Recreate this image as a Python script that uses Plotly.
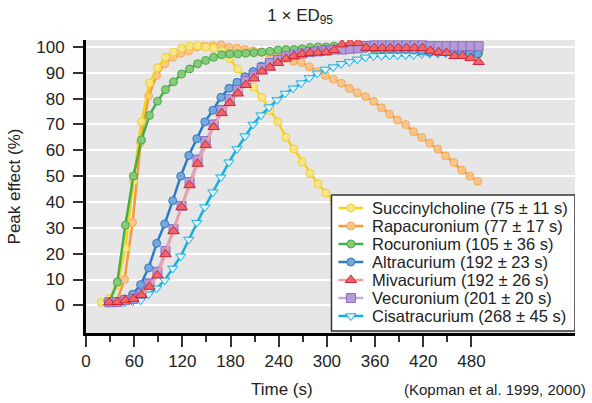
import plotly.graph_objects as go

FONT = "Liberation Sans, Arial, Helvetica, sans-serif"

# ---- data (time in s, peak effect in %) ----
t_succ = [19, 29, 39, 49, 59, 69, 79, 89, 99, 109, 119, 129, 139, 149, 159, 169,
          179, 189, 199, 209, 219, 229, 239, 249, 259, 269, 279, 289, 299, 309,
          319, 329, 339]
succinylcholine = [1.2, 2.5, 8, 22, 48, 71, 86, 92, 96, 98, 99.5, 100.3, 100.5, 100,
                   99.5, 98.5, 95.5, 91.5, 88, 84.5, 80.5, 75.5, 71, 65, 60.5, 55.5,
                   51, 47, 43.5, 40.5, 37.5, 35, 32]

t_a = [28, 38, 48, 58, 68, 78, 88, 98, 108, 118, 128, 138, 148, 158, 168, 178, 188,
       198, 208, 218, 228, 238, 248, 258, 268, 278, 288, 298, 308, 318, 328, 338,
       348, 358, 368, 378, 388, 398, 408, 418, 428, 438, 448, 458, 468, 478, 488]
t_b = [29, 39, 49, 59, 69, 79, 89, 99, 109, 119, 129, 139, 149, 159, 169, 179, 189,
       199, 209, 219, 229, 239, 249, 259, 269, 279, 289, 299, 309, 319, 329, 339,
       349, 359, 369, 379, 389, 399, 409, 419, 429, 439, 449, 459, 469, 479, 489]

rapacuronium = [1, 1.2, 10, 32, 63, 81, 89, 93.5, 96, 97.5,
                98.5, 100, 100.3, 100.5, 100.8, 99.8, 99.5, 99, 98.5, 98,
                97.5, 96.5, 95.5, 94.5, 94, 92.3, 90.5, 89, 87.5, 86,
                84, 82.3, 80.8, 79, 76.5, 74, 71.7, 70, 67.2, 65,
                62.8, 60.5, 57.8, 55.3, 52.3, 50, 48]
rocuronium = [1.2, 9, 31, 50, 64, 73.5, 79, 83.5, 86.5, 89.5,
              91.5, 93.5, 94.8, 96, 97, 97.3, 97.3, 97.6, 97.8, 98,
              98.3, 98.8, 99, 99, 99.3, 99.8, 100, 100, 100.3, 100,
              99.8, 99.8, 100, 99, 99, 99, 99, 99, 98.8, 98.8,
              98.5, 98.5, 98.5, 98.5, 98.3, 98, 97.7]
altracurium = [1.2, 1.5, 2.5, 4.3, 8, 14.5, 24, 31.5, 40.5, 50,
               58, 64.5, 71, 75.5, 80.5, 84, 86.3, 88.5, 90.5, 92.5,
               94, 95, 96, 97, 97.5, 98, 98.5, 99, 99, 99.3,
               99.5, 99.5, 99.5, 99.5, 99.3, 99.3, 99, 99, 98.8, 98.5,
               98, 98, 98, 98, 97.8, 97.5, 97.3]
mivacurium = [1.2, 1.3, 2, 2.5, 4, 7.2, 11.6, 19.8, 28.7, 38,
              46.5, 54.8, 62, 69, 74.4, 78.3, 82, 85.3, 87.8, 90.5,
              92, 93.8, 95.5, 96.5, 97.3, 97.7, 97.8, 98, 98.8, 101,
              101.5, 101.5, 99.7, 99.6, 99.6, 99.6, 99.6, 99.6, 99.6, 99.6,
              98.5, 98, 97.7, 96.5, 96.5, 95.7, 94.2]
vecuronium = [1.2, 1.3, 2, 2.5, 4.5, 8.5, 13, 21, 29.5, 38.5,
              47.7, 56.4, 63.6, 70, 75.6, 79.8, 83.3, 86.8, 89, 91.9,
              93.8, 95, 96.5, 97, 97.5, 98, 98.3, 98.6, 99, 99,
              99.3, 99.5, 100.4, 100.6, 100.6, 100.6, 100.6, 100.6, 100.6, 100.6,
              100.3, 100.3, 100.3, 100.3, 100.3, 100.3, 100.3]
cisatracurium = [1, 1, 1.2, 1.5, 2, 4.3, 6.6, 9.7, 14.3, 19,
                 25.5, 32, 38, 43.8, 49.6, 55.4, 60.5, 65.5, 70, 73.6,
                 76.7, 79.5, 82, 84, 86, 88, 89.8, 91.3, 92.2, 93.5,
                 94.2, 95.2, 96, 96.5, 96.6, 96.7, 96.8, 96.9, 96.9, 97.3,
                 97.4, 97.5, 97.6, 97.6, 97.7, 97.7, 97.8]

names = ["Succinylcholine (75 \u00b1 11 s)", "Rapacuronium (77 \u00b1 17 s)",
         "Rocuronium (105 \u00b1 36 s)", "Altracurium (192 \u00b1 23 s)",
         "Mivacurium (192 \u00b1 26 s)", "Vecuronium (201 \u00b1 20 s)",
         "Cisatracurium (268 \u00b1 45 s)"]
x_ticks = [0, 60, 120, 180, 240, 300, 360, 420, 480]
x_minor = [30, 90, 150, 210, 270, 330, 390, 450]
y_ticks = [0, 10, 20, 30, 40, 50, 60, 70, 80, 90, 100]

series = [
    (t_succ, succinylcholine, "#f2d31b", "#f8e58a", "#f0cf2a", "circle", 8),
    (t_a, rapacuronium, "#f89a35", "#fbc488", "#f6aa58", "circle", 8),
    (t_b, rocuronium, "#46ae47", "#86cc78", "#4aa94a", "circle", 8),
    (t_a, altracurium, "#2a7ccb", "#72a8de", "#3478c2", "circle", 8),
    (t_b, mivacurium, "#f0a0a2", "#ee6668", "#cf2436", "triangle-up", 10),
    (t_b, vecuronium, "#c0aadf", "#b49bd8", "#8b6cbf", "square", 9),
    (t_a, cisatracurium, "#1aaee0", "#dff3fb", "#1aaee0", "triangle-down", 9),
]

fig = go.Figure()
draw_order = [1, 0, 2, 6, 3, 5, 4]
for i in draw_order:
    tx, vy, lc, fc, ec, sym, sz = series[i]
    fig.add_trace(go.Scatter(
        x=tx, y=vy, mode="lines+markers", name=names[i], showlegend=False,
        line=dict(color=lc, width=2.5),
        marker=dict(symbol=sym, size=sz, color=fc, line=dict(color=ec, width=1)),
    ))

# ---- legend key, drawn on an overlay axis measured in pixels ----
PX_L, PX_R, PX_T, PX_B = 83, 575, 40, 333
box_l, box_r, box_t, box_b = 330, 575, 195, 331
row0, row_gap = 208, 18
fig.add_trace(go.Scatter(
    x=[box_l, box_r, box_r, box_l, box_l], y=[box_t, box_t, box_b, box_b, box_t],
    mode="lines", fill="toself", fillcolor="white",
    line=dict(color="#333", width=1.5), xaxis="x2", yaxis="y2",
    showlegend=False, hoverinfo="skip"))
annotations = []
for k, (tx, vy, lc, fc, ec, sym, sz) in enumerate(series):
    yc = row0 + k * row_gap
    fig.add_trace(go.Scatter(
        x=[337, 349.5, 362], y=[yc, yc, yc], mode="lines+markers",
        line=dict(color=lc, width=2.5),
        marker=dict(symbol=sym, size=sz, color=fc, opacity=[0, 1, 0],
                    line=dict(color=ec, width=1)),
        xaxis="x2", yaxis="y2", showlegend=False, hoverinfo="skip"))
    annotations.append(dict(text=names[k], xref="x2", yref="y2", x=369, y=yc,
                            xanchor="left", yanchor="middle", showarrow=False,
                            font=dict(size=16.5, color="#222")))

annotations += [
    dict(text="Time (s)", xref="paper", yref="paper", x=0.4004, y=-0.1945,
         xanchor="center", yanchor="middle", showarrow=False,
         font=dict(size=17, color="#222")),
    dict(text="(Kopman et al. 1999, 2000)", xref="paper", yref="paper",
         x=1.0264, y=-0.1945, xanchor="right", yanchor="middle",
         showarrow=False, font=dict(size=15, color="#222")),
]

fig.update_layout(
    width=592, height=403,
    margin=dict(l=PX_L, r=592 - PX_R, t=PX_T, b=403 - PX_B),
    plot_bgcolor="#e6e6e6", paper_bgcolor="white",
    font=dict(family=FONT, size=17, color="#222"),
    title=dict(text="1 \u00d7 ED<sub>95</sub>", x=0.507, xanchor="center",
               y=0.963, yanchor="middle", font=dict(size=17, color="#222")),
    showlegend=False,
    xaxis=dict(range=[0, 609], tickmode="array", tickvals=x_ticks,
               ticks="outside", ticklen=11, tickwidth=1.5, tickcolor="#333",
               showline=True, linewidth=3, linecolor="black",
               showgrid=False, zeroline=False, tickfont=dict(size=17),
               minor=dict(tickmode="array", tickvals=x_minor, ticks="outside",
                          ticklen=6, tickwidth=1.5, tickcolor="#333", showgrid=False)),
    yaxis=dict(range=[-10.7, 102.7], tickmode="array", tickvals=y_ticks,
               ticks="outside", ticklen=10, tickwidth=1.5, tickcolor="#333",
               showline=True, linewidth=3, linecolor="black",
               showgrid=True, gridcolor="white", gridwidth=1.5, zeroline=False,
               tickfont=dict(size=17), ticklabelstandoff=5,
               title=dict(text="Peak effect (%)", font=dict(size=17), standoff=12)),
    xaxis2=dict(overlaying="x", anchor="y2", range=[PX_L, PX_R], visible=False),
    yaxis2=dict(overlaying="y", anchor="x2", range=[PX_B, PX_T], visible=False),
    annotations=annotations,
)

fig.write_html("out.html")
